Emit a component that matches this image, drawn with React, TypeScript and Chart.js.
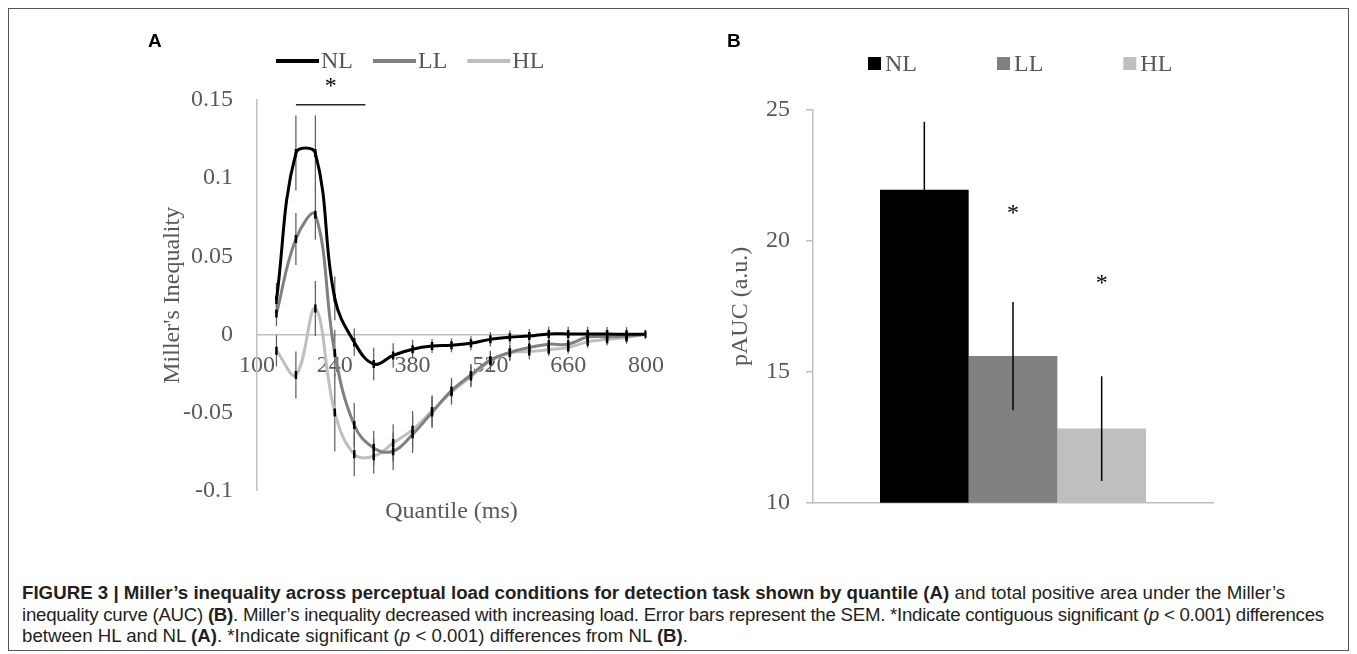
import React, { useEffect, useRef } from 'react';
import { Chart, registerables } from 'chart.js';

Chart.register(...registerables);

// ---------- Panel A data ----------
const conditions = ['NL', 'LL', 'HL'];
const quantilesMs = [135, 170, 205, 240, 275, 310, 345, 380, 415, 450, 485, 520, 555, 590, 625, 660, 695, 730, 765, 800];
const nlInequality = [0.022, 0.116, 0.116, 0.023, -0.005, -0.019, -0.0135, -0.0095, -0.0075, -0.007, -0.0057, -0.0032, -0.0018, -0.0011, 0.0003, 0.0003, 0.0003, 0.0002, 0.0001, 0];
const llInequality = [0.0134, 0.061, 0.0765, -0.012, -0.058, -0.0727, -0.0748, -0.064, -0.05, -0.036, -0.026, -0.0165, -0.0115, -0.0084, -0.0063, -0.0063, -0.0017, -0.0015, -0.001, 0];
const hlInequality = [-0.0105, -0.026, 0.0165, -0.05, -0.0768, -0.078, -0.0696, -0.061, -0.049, -0.037, -0.027, -0.017, -0.012, -0.011, -0.0098, -0.0084, -0.0048, -0.0032, -0.002, 0];
const nlSem = [0.011, 0.024, 0.024, 0.014, 0.0087, 0.0104, 0.0078, 0.006, 0.0045, 0.0045, 0.0045, 0.0045, 0.0045, 0.0045, 0.0045, 0.0045, 0.0045, 0.0045, 0.0045, 0.002];
const llSem = [0.008, 0.0166, 0.016, 0.015, 0.014, 0.011, 0.012, 0.012, 0.01, 0.008, 0.007, 0.006, 0.005, 0.005, 0.004, 0.004, 0.004, 0.004, 0.004, 0.002];
const hlSem = [0.01, 0.015, 0.0176, 0.025, 0.014, 0.011, 0.012, 0.012, 0.01, 0.008, 0.007, 0.006, 0.005, 0.005, 0.004, 0.004, 0.004, 0.004, 0.004, 0.002];
const sigSpanMs = [170, 295];
const sigLineLevel = 0.147;
const sigStarLevel = 0.162;

// ---------- Panel B data ----------
const aucCategory = [''];
const aucValues = [21.95, 15.6, 12.83];
const aucSem = [2.6, 2.07, 2.0];
const aucStarLevels = [null, 21.25, 18.6];

const colors = ['#000000', '#808080', '#bfbfbf'];
const serif = "'Liberation Serif', 'Times New Roman', serif";
const textGray = '#595959';
const axisGray = '#bfbfbf';

const valuesA = [nlInequality, llInequality, hlInequality];
const semsA = [nlSem, llSem, hlSem];

const errorBarsA = {
  id: 'errorBarsA',
  beforeDatasetsDraw(chart: any) {
    const { ctx, scales } = chart;
    const x = scales.x, y = scales.y;
    ctx.save();
    ctx.strokeStyle = '#595959';
    ctx.lineWidth = 1.2;
    valuesA.forEach((vals, i) => {
      vals.forEach((v, j) => {
        const px = x.getPixelForValue(quantilesMs[j]);
        ctx.beginPath();
        ctx.moveTo(px, y.getPixelForValue(v - semsA[i][j]));
        ctx.lineTo(px, y.getPixelForValue(v + semsA[i][j]));
        ctx.stroke();
      });
    });
    ctx.restore();
  },
  afterDraw(chart: any) {
    const { ctx, scales } = chart;
    const x = scales.x, y = scales.y;
    ctx.save();
    ctx.strokeStyle = '#262626';
    ctx.lineWidth = 1.5;
    const ly = y.getPixelForValue(sigLineLevel);
    ctx.beginPath();
    ctx.moveTo(x.getPixelForValue(sigSpanMs[0]), ly);
    ctx.lineTo(x.getPixelForValue(sigSpanMs[1]), ly);
    ctx.stroke();
    ctx.fillStyle = '#000';
    ctx.font = `24px ${serif}`;
    ctx.textAlign = 'center';
    ctx.textBaseline = 'alphabetic';
    const sx = x.getPixelForValue((sigSpanMs[0] + sigSpanMs[1]) / 2);
    ctx.fillText('*', sx, y.getPixelForValue(sigStarLevel) + 12);
    let lx = 176;
    const legY = 52;
    ctx.font = `24px ${serif}`;
    ctx.textAlign = 'left';
    ctx.textBaseline = 'middle';
    chart.data.datasets.forEach((ds: any) => {
      ctx.strokeStyle = ds.borderColor;
      ctx.lineWidth = 4;
      ctx.beginPath();
      ctx.moveTo(lx, legY);
      ctx.lineTo(lx + 43, legY);
      ctx.stroke();
      ctx.fillStyle = textGray;
      ctx.fillText(ds.label, lx + 45, legY + 1);
      lx += 45 + ctx.measureText(ds.label).width + 20;
    });
    ctx.restore();
  },
};

const errorBarsB = {
  id: 'errorBarsB',
  afterDatasetsDraw(chart: any) {
    const { ctx, scales } = chart;
    const y = scales.y;
    ctx.save();
    ctx.strokeStyle = '#000';
    ctx.lineWidth = 1.5;
    chart.data.datasets.forEach((ds: any, i: number) => {
      const bar = chart.getDatasetMeta(i).data[0];
      const v = aucValues[i];
      ctx.beginPath();
      ctx.moveTo(bar.x, y.getPixelForValue(v - aucSem[i]));
      ctx.lineTo(bar.x, y.getPixelForValue(v + aucSem[i]));
      ctx.stroke();
      const s = aucStarLevels[i];
      if (s !== null) {
        ctx.fillStyle = '#000';
        ctx.font = `24px ${serif}`;
        ctx.textAlign = 'center';
        ctx.textBaseline = 'alphabetic';
        ctx.fillText('*', bar.x, y.getPixelForValue(s) + 12);
      }
    });
    ctx.restore();
  },
  afterDraw(chart: any) {
    const { ctx } = chart;
    ctx.save();
    let lx = 168;
    const legY = 54.5;
    ctx.font = `24px ${serif}`;
    ctx.textAlign = 'left';
    ctx.textBaseline = 'middle';
    chart.data.datasets.forEach((ds: any) => {
      ctx.fillStyle = ds.backgroundColor;
      ctx.fillRect(lx, legY - 6.5, 13, 13);
      ctx.fillStyle = textGray;
      ctx.fillText(ds.label, lx + 17, legY + 1);
      lx += 17 + ctx.measureText(ds.label).width + 80;
    });
    ctx.restore();
  },
};

export default function App() {
  const refA = useRef<HTMLCanvasElement>(null);
  const refB = useRef<HTMLCanvasElement>(null);

  useEffect(() => {
    const chartA = new Chart(refA.current as HTMLCanvasElement, {
      type: 'line',
      data: {
        datasets: conditions.map((c, i) => ({
          label: c,
          data: quantilesMs.map((q, j) => ({ x: q, y: valuesA[i][j] })),
          borderColor: colors[i],
          backgroundColor: colors[i],
          borderWidth: 3,
          tension: 0.4,
          fill: false,
          pointStyle: 'line',
          rotation: 90,
          pointRadius: 4,
          pointBorderColor: '#000',
          pointBackgroundColor: '#000',
          pointBorderWidth: 2.5,
        })),
      },
      options: {
        responsive: false,
        animation: false,
        events: [],
        layout: { padding: { top: 91, bottom: 27.3, left: 0, right: 80 } },
        plugins: { legend: { display: false }, tooltip: { enabled: false } },
        scales: {
          x: {
            type: 'linear',
            position: { y: 0 },
            min: 100,
            max: 800,
            ticks: { stepSize: 140, padding: 17, color: textGray, font: { family: serif, size: 24 }, maxRotation: 0 },
            grid: { display: false, drawTicks: false },
            border: { display: true, color: axisGray, width: 1.5 },
            title: { display: true, text: 'Quantile (ms)', color: textGray, font: { family: serif, size: 24 }, padding: { top: 100, bottom: 0 } },
          },
          y: {
            type: 'linear',
            min: -0.1,
            max: 0.15,
            ticks: {
              stepSize: 0.05,
              padding: 24,
              color: textGray,
              font: { family: serif, size: 24 },
              callback: (v: any) => String(Number(Number(v).toFixed(2))),
            },
            grid: { display: false, drawTicks: false },
            border: { display: true, color: axisGray, width: 1.5 },
            title: { display: true, text: "Miller's Inequality", color: textGray, font: { family: serif, size: 24 }, padding: { top: 58, bottom: 0 } },
            afterFit(scale: any) { scale.width = 157; },
          },
        },
      } as any,
      plugins: [errorBarsA],
    });

    const chartB = new Chart(refB.current as HTMLCanvasElement, {
      type: 'bar',
      data: {
        labels: aucCategory,
        datasets: conditions.map((c, i) => ({
          label: c,
          data: [aucValues[i]],
          backgroundColor: colors[i],
          borderWidth: 0,
          categoryPercentage: 0.665,
          barPercentage: 1.0,
        })),
      },
      options: {
        responsive: false,
        animation: false,
        events: [],
        layout: { padding: { top: 101, bottom: 46.3, left: 0, right: 47 } },
        plugins: { legend: { display: false }, tooltip: { enabled: false } },
        scales: {
          x: {
            ticks: { display: false },
            grid: { display: false, drawTicks: false },
            border: { display: true, color: axisGray, width: 1.5 },
            afterFit(scale: any) { scale.height = 0; },
          },
          y: {
            min: 10,
            max: 25,
            ticks: { stepSize: 5, padding: 16, color: textGray, font: { family: serif, size: 24 } },
            grid: { display: true, drawOnChartArea: false, drawTicks: true, tickLength: 7, color: axisGray, lineWidth: 1.5 },
            border: { display: true, color: axisGray, width: 1.5 },
            title: { display: true, text: 'pAUC (a.u.)', color: textGray, font: { family: serif, size: 24 }, padding: { top: 26, bottom: 0 } },
            afterFit(scale: any) { scale.width = 113; },
          },
        },
      } as any,
      plugins: [errorBarsB],
    });

    return () => {
      chartA.destroy();
      chartB.destroy();
    };
  }, []);

  const panelLabel: React.CSSProperties = {
    position: 'absolute',
    top: 21.5,
    fontFamily: "'Liberation Sans', Arial, sans-serif",
    fontWeight: 'bold',
    fontSize: 19,
    lineHeight: '19px',
    color: '#000',
  };

  return (
    <div style={{ position: 'relative', width: 1339, height: 641, border: '1px solid #555', background: '#fff' }}>
      <canvas ref={refA} width={626} height={520} style={{ position: 'absolute', left: 91, top: 0, width: 626, height: 520 }} />
      <canvas ref={refB} width={560} height={540} style={{ position: 'absolute', left: 691, top: 0, width: 560, height: 540 }} />
      <div style={{ ...panelLabel, left: 139 }}>A</div>
      <div style={{ ...panelLabel, left: 718 }}>B</div>
      <div
        style={{
          position: 'absolute',
          left: 13,
          top: 573,
          width: 1320,
          fontFamily: "'Liberation Sans', Arial, sans-serif",
          fontSize: 18.7,
          lineHeight: '21.5px',
          color: '#231f20',
          whiteSpace: 'nowrap',
        }}
      >
        <b>FIGURE 3 | Miller’s inequality across perceptual load conditions for detection task shown by quantile (A)</b> and total positive area under the Miller’s
        <br />
        <span style={{ letterSpacing: '-0.27px' }}>
          inequality curve (AUC) <b>(B)</b>. Miller’s inequality decreased with increasing load. Error bars represent the SEM. *Indicate contiguous significant (<i>p</i> &lt; 0.001) differences
        </span>
        <br />
        between HL and NL <b>(A)</b>. *Indicate significant (<i>p</i> &lt; 0.001) differences from NL <b>(B)</b>.
      </div>
    </div>
  );
}
